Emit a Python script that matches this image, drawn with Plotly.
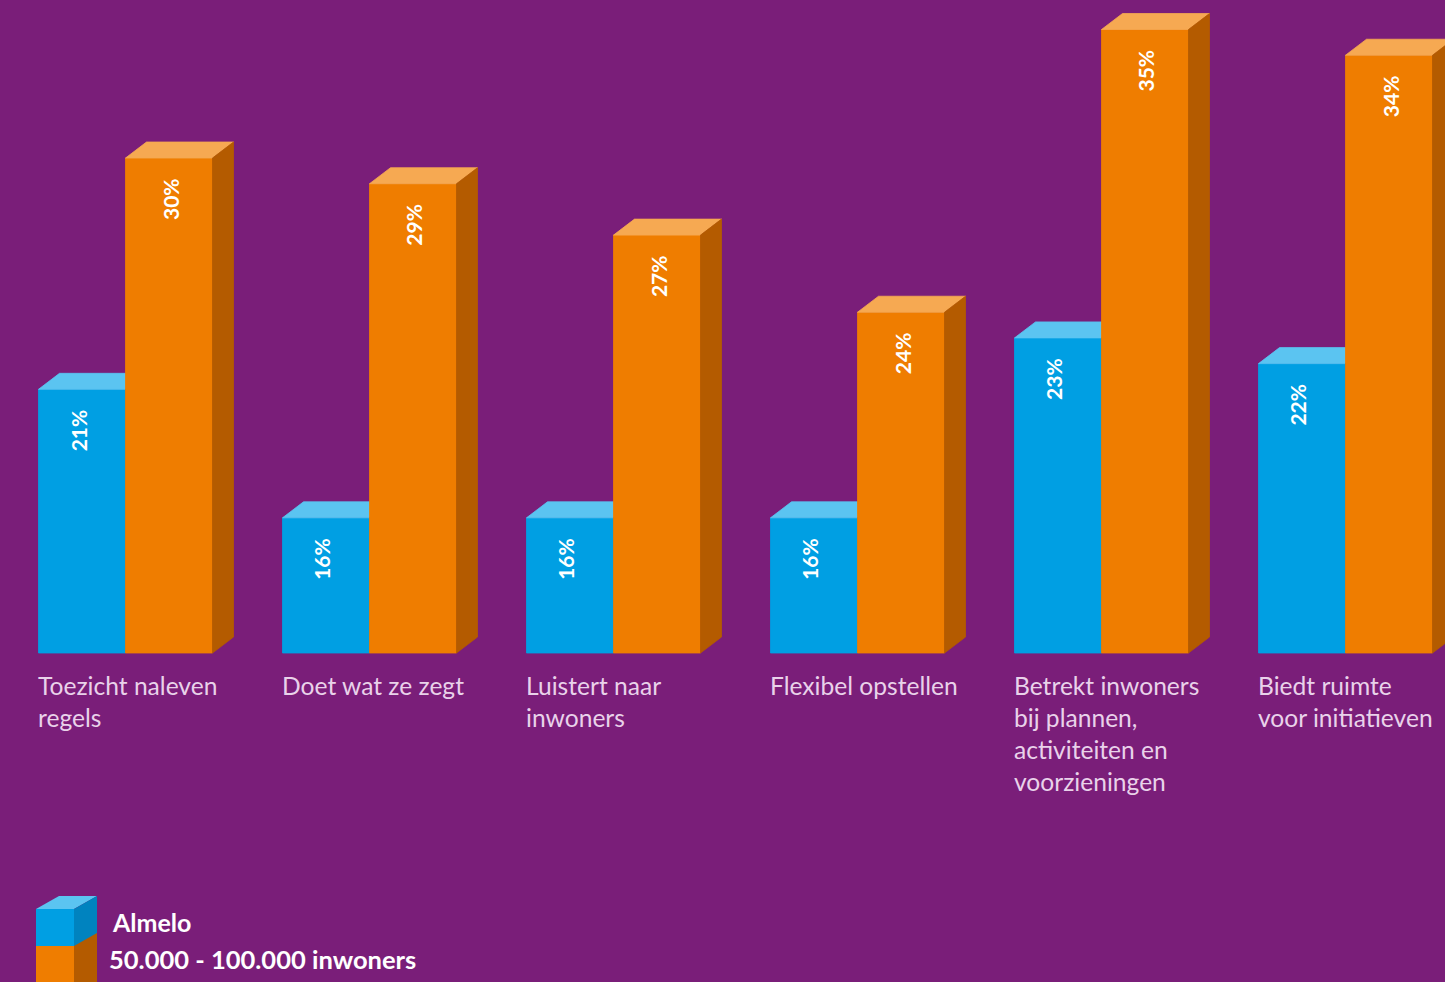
import plotly.graph_objects as go

# ---------------- data ----------------
categories = [
    "Toezicht naleven<br>regels",
    "Doet wat ze zegt",
    "Luistert naar<br>inwoners",
    "Flexibel opstellen",
    "Betrekt inwoners<br>bij plannen,<br>activiteiten en<br>voorzieningen",
    "Biedt ruimte<br>voor initiatieven",
]
almelo = [21, 16, 16, 16, 23, 22]
benchmark = [30, 29, 27, 24, 35, 34]
series_names = ["Almelo", "50.000 - 100.000 inwoners"]

# ---------------- style ----------------
W, H = 1445, 982
BG = "#7a1e79"
BLUE = dict(front="#009fe3", top="#5bc4f1", side="#0083bf")
ORANGE = dict(front="#ef7d00", top="#f6a952", side="#b45b00")
LABEL_COLOR = "#e9d2ea"
FONT = "Lato"

# axis geometry (pixels -> data units)
PX_PER_CAT = 244.0
CAT0_PX = 125.5
PX_PER_PCT = 25.7
BASE_PX = 653.0
V0 = 10.74  # value at the visible baseline

x_range = [-CAT0_PX / PX_PER_CAT, (W - CAT0_PX) / PX_PER_CAT]
y_range = [V0 - (H - BASE_PX) / PX_PER_PCT, V0 + BASE_PX / PX_PER_PCT]

BW = 87.0 / PX_PER_CAT
DX = 21.0 / PX_PER_CAT
DY = 16.0 / PX_PER_PCT


def faces(values, offset):
    fx, fy, tx, ty, sx, sy = [], [], [], [], [], []
    for i, v in enumerate(values):
        xl = i + offset
        xr = xl + BW
        fx += [xl, xl, xr, xr, xl, None]
        fy += [V0, v, v, V0, V0, None]
        tx += [xl, xl + DX, xr + DX, xr, xl, None]
        ty += [v, v + DY, v + DY, v, v, None]
        sx += [xr, xr, xr + DX, xr + DX, xr, None]
        sy += [V0, v, v + DY, V0 + DY, V0, None]
    return (fx, fy), (tx, ty), (sx, sy)


fig = go.Figure()


def add_series(values, offset, colors, name):
    front, top, side = faces(values, offset)
    for (xs, ys), key in ((front, "front"), (top, "top"), (side, "side")):
        fig.add_trace(
            go.Scatter(
                x=xs, y=ys, mode="lines", fill="toself",
                fillcolor=colors[key],
                line=dict(width=0.8, color=colors[key]),
                hoverinfo="skip", showlegend=False, name=name,
            )
        )


add_series(almelo, -BW, BLUE, series_names[0])
add_series(benchmark, 0.0, ORANGE, series_names[1])

annotations = []
# value labels (rotated)
for vals, off, xs in ((almelo, -BW / 2, -4), (benchmark, BW / 2, 1)):
    for i, v in enumerate(vals):
        annotations.append(dict(
            x=i + off, y=v, xref="x", yref="y", text=f"<b>{v}%</b>",
            textangle=-90, showarrow=False, xanchor="center", yanchor="middle",
            yshift=-41, xshift=xs,
            font=dict(family=FONT, size=21, color="white"),
        ))

# category labels
for i, c in enumerate(categories):
    annotations.append(dict(
        x=i - BW, y=V0, xref="x", yref="y", text=c, align="left",
        showarrow=False, xanchor="left", yanchor="top", yshift=-16, xshift=-3,
        font=dict(family=FONT, size=24.6, color=LABEL_COLOR),
    ))

# legend text
annotations.append(dict(
    x=110 / W, y=1 - 922 / H, xref="paper", yref="paper",
    text=f"<b>{series_names[0]}</b>", showarrow=False,
    xanchor="left", yanchor="middle",
    font=dict(family=FONT, size=25, color="white"),
))
annotations.append(dict(
    x=107 / W, y=1 - 959 / H, xref="paper", yref="paper",
    text=f"<b>{series_names[1]}</b>", showarrow=False,
    xanchor="left", yanchor="middle",
    font=dict(family=FONT, size=25.5, color="white"),
))


def px_path(pts):
    return "M " + " L ".join(f"{x / W},{1 - y / H}" for x, y in pts) + " Z"


legend_shapes = []
for pts, col in (
    ([(36, 909), (36, 947), (74, 947), (74, 909)], BLUE["front"]),
    ([(36, 909), (59, 896), (97, 896), (74, 909)], BLUE["top"]),
    ([(74, 909), (97, 896), (97, 934), (74, 947)], BLUE["side"]),
    ([(36, 946), (36, 990), (74, 990), (74, 946)], ORANGE["front"]),
    ([(74, 946), (97, 933), (97, 990), (74, 990)], ORANGE["side"]),
):
    legend_shapes.append(dict(
        type="path", xref="paper", yref="paper", path=px_path(pts),
        fillcolor=col, line=dict(width=0), layer="above",
    ))

fig.update_layout(
    width=W, height=H,
    margin=dict(l=0, r=0, t=0, b=0),
    paper_bgcolor=BG, plot_bgcolor=BG,
    xaxis=dict(range=x_range, visible=False, fixedrange=True),
    yaxis=dict(range=y_range, visible=False, fixedrange=True),
    annotations=annotations,
    shapes=legend_shapes,
    showlegend=False,
)

fig.write_html(
    "out.html",
    config={"displayModeBar": False},
    post_script="document.body.style.margin='0';document.body.style.background='" + BG + "';document.body.style.overflow='hidden';",
)
